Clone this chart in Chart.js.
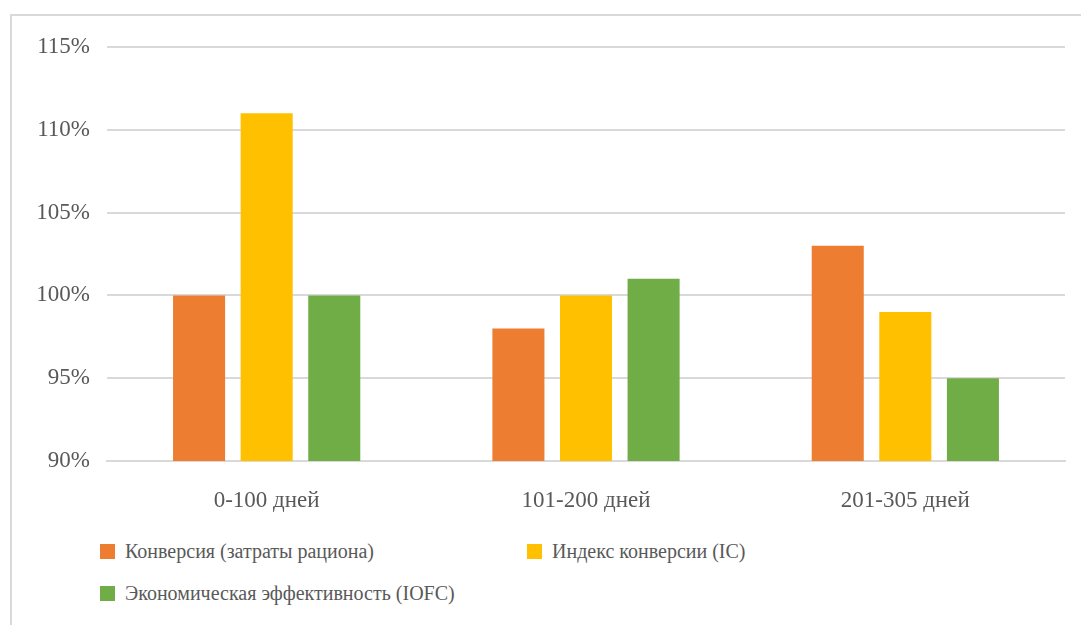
<!DOCTYPE html>
<html>
<head>
<meta charset="utf-8">
<script src="https://cdn.jsdelivr.net/npm/chart.js@4"></script>
<style>
  html,body{margin:0;padding:0;background:#fff;width:1081px;height:625px;overflow:hidden;}
  .frame{position:absolute;left:10px;top:14px;width:1100px;height:700px;border-left:2px solid #d9d9d9;border-top:2px solid #d9d9d9;}
  .wrap{position:absolute;left:0;top:0;width:1081px;height:530px;}
  .legend{position:absolute;left:100px;top:540px;font-family:"Liberation Serif",Tinos,"Times New Roman","DejaVu Serif",serif;font-size:20px;color:#595959;}
  .item{position:absolute;white-space:nowrap;display:flex;align-items:center;}
  .item span.box{display:inline-block;width:15px;height:15px;margin-right:10px;}
</style>
</head>
<body>
<div class="frame"></div>
<div class="wrap"><canvas id="chart"></canvas></div>
<div class="legend" id="legend"></div>
<script>
const categories = ['0-100 дней','101-200 дней','201-305 дней'];
const seriesNames = ['Конверсия (затраты рациона)','Индекс конверсии (IC)','Экономическая эффективность (IOFC)'];
const conversion = [100, 98, 103];
const conversionIndex = [111, 100, 99];
const iofc = [100, 101, 95];
const colors = ['#ED7D31','#FFC000','#70AD47'];
const yTicks = [90, 95, 100, 105, 110, 115];

const font = {family:'"Liberation Serif", Tinos, "Times New Roman", "DejaVu Serif", serif', size:23};
const values = [conversion, conversionIndex, iofc];

new Chart(document.getElementById('chart').getContext('2d'),{
  type:'bar',
  data:{
    labels:categories,
    datasets:values.map((v,i)=>({label:seriesNames[i], data:v, backgroundColor:colors[i], barPercentage:0.77, categoryPercentage:0.635}))
  },
  options:{
    responsive:true, maintainAspectRatio:false, animation:false,
    layout:{padding:{left:20, right:16, top:47, bottom:0}},
    plugins:{legend:{display:false}, tooltip:{enabled:false}},
    scales:{
      x:{
        grid:{display:false}, border:{display:true, color:'#d9d9d9', width:2},
        ticks:{font:font, color:'#595959', padding:18},
        afterFit:s=>{s.height=69;}
      },
      y:{
        min:90, max:115,
        grid:{color:'#d9d9d9', lineWidth:2, drawTicks:false},
        border:{display:false},
        afterBuildTicks:s=>{s.ticks=yTicks.map(v=>({value:v}));},
        ticks:{font:font, color:'#595959', padding:17, callback:v=>v+'%'},
        afterFit:s=>{s.width=87;}
      }
    }
  }
});

const leg = document.getElementById('legend');
const pos = [[0,0],[427,0],[0,42]];
seriesNames.forEach((n,i)=>{
  const d=document.createElement('div');
  d.className='item';
  d.style.left=pos[i][0]+'px';
  d.style.top=pos[i][1]+'px';
  d.innerHTML='<span class="box" style="background:'+colors[i]+'"></span>'+n;
  leg.appendChild(d);
});
</script>
</body>
</html>
